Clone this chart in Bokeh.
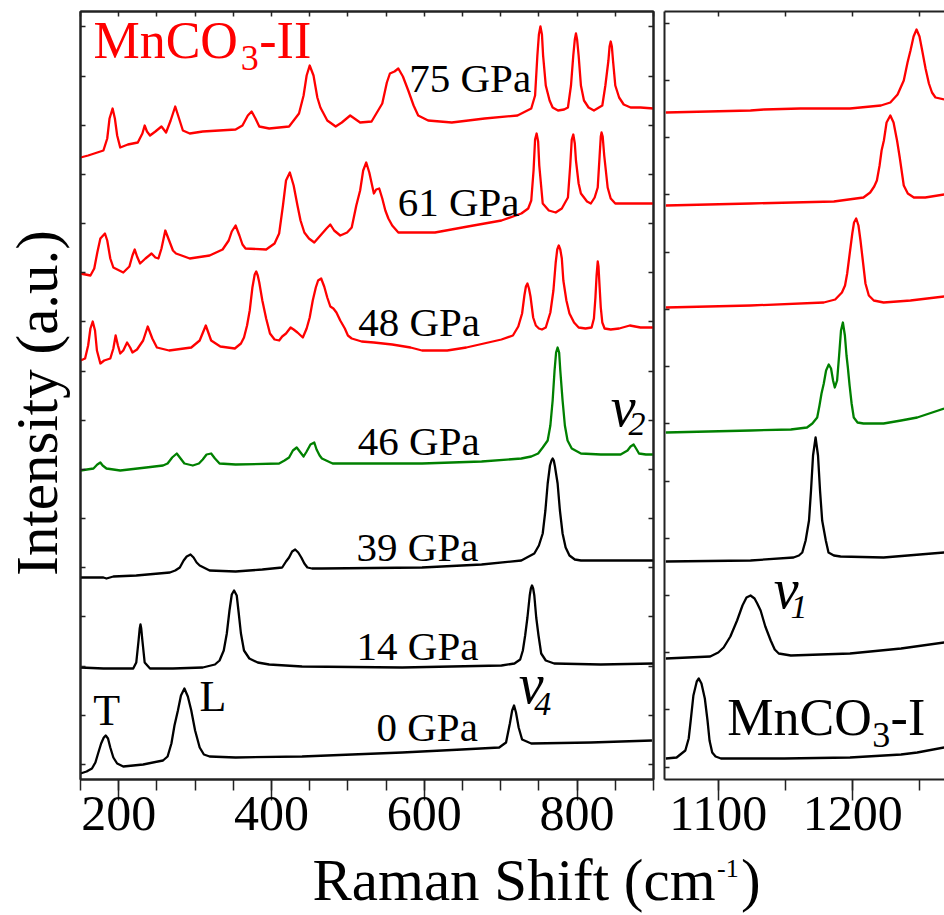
import math
from bokeh.plotting import figure
from bokeh.models import (Range1d, LinearAxis, FixedTicker, SingleIntervalTicker, Label,
                          CustomJSTickFormatter)
from bokeh.layouts import column, row
from bokeh.embed import file_html
from bokeh.resources import INLINE

FONT = "Liberation Serif"
FRAME = "#222222"
RED = "#ff0000"
GREEN = "#008000"
BLACK = "#000000"

# ---------------- data: (Raman shift cm-1, intensity a.u.) ----------------
# left panel (150 - 900 cm-1)
L75 = [(150,622),(160,624),(180,629),(185,641),(188,661),(192,671),(195,661),(198,644),(202,632),(212,635),(225,637),(231,646),(234,654),(237,648),(241,644),(248,648),(256,653),(262,647),(268,659),(274,673),(279,661),(284,649),(293,646),(310,648),(353,650),(362,654),(369,664),(374,668),(379,661),(384,653),(397,651),(423,653),(436,666),(442,684),(446,704),(450,714),(455,704),(460,682),(464,672),(473,659),(484,653),(492,657),(503,664),(516,657),(531,658),(545,676),(551,697),(555,706),(561,708),(566,711),(572,703),(579,689),(586,674),(592,664),(605,659),(636,657),(679,661),(722,664),(740,671),(745,684),(748,724),(750,745),(752,753),(754,745),(755.5,724),(759,694),(764,679),(768,672),(775,669),(783,670),(788,672),(792,694),(795,724),(797,740),(798.5,746),(800,740),(802,724),(805,694),(809,679),(815,672),(822,669),(833,674),(837,694),(841,719),(842.5,733),(844,738),(845.5,733),(847,719),(850,694),(855,682),(861,675),(870,672),(883,672),(900,671)]
L61 = [(150,506),(163,504),(168,511),(172,527),(176,541),(182,546),(185,539),(189,521),(193,512),(206,507),(214,513),(218,524),(221,530),(224,523),(228,516),(235,521),(243,526),(248,522),(252,521),(256,531),(261,549),(266,539),(271,529),(275,526),(293,521),(319,524),(336,530),(344,539),(348,548),(353,554),(358,544),(362,535),(366,531),(393,530),(404,536),(410,546),(415,574),(419,599),(424,607),(429,594),(434,574),(438,559),(443,547),(449,541),(456,537),(464,544),(472,551),(477,555),(482,549),(490,544),(499,547),(505,552),(511,574),(516,589),(520,609),(524,617),(528,607),(534,586),(537,590),(541,591),(545,581),(549,569),(553,561),(558,554),(566,547),(614,547),(657,553),(701,559),(727,566),(736,571),(740,579),(743,609),(745,640),(747,646),(749,638),(750.5,614),(755,576),(763,569),(772,567),(780,571),(788,582),(791,614),(793,640),(795,645),(797,636),(798.5,619),(802,596),(805,586),(813,578),(818,576),(823,582),(827,592),(829.5,624),(831,643),(832,647),(833.5,643),(835.5,624),(840,592),(844,581),(850,576),(877,576),(900,576)]
L48 = [(150,419),(156,421),(160,434),(163,451),(166,458),(169,449),(171.5,429),(176,416),(181,419),(189,421),(193,431),(196,444),(199,434),(202,426),(206,429),(211,437),(215,432),(218,427),(224,430),(232,439),(238,453),(244,441),(250,432),(266,429),(295,432),(306,439),(314,454),(321,439),(333,433),(352,431),(360,436),(364,442),(368,454),(371.5,469),(375,492),(378,505),(380,508),(382,504),(384,497),(388,479),(393,461),(398,446),(404,440),(410,439),(414,443),(419,446),(425,452),(429,450),(434,447),(441,442),(446,451),(450,462),(454,479),(458,492),(461,499),(465,501),(469,493),(473,482),(477,473),(481,471),(485,467),(490,459),(496,451),(500,444),(505,441),(518,438),(534,437),(558,435),(582,432),(597,429),(630,429),(655,432),(678,436),(701,440),(716,444),(723,453),(728,466),(731,484),(733,493),(735,496),(737,491),(739,483),(742.5,462),(746,454),(750,451),(754,450),(759,452),(765,467),(769,489),(772,517),(774,530),(776,534),(778,530),(780,521),(782,499),(786,479),(790,466),(796,457),(802,452),(811,451),(819,452),(822,461),(824,482),(825.5,504),(827,518),(828,513),(829,499),(831,472),(833,457),(836,451),(844,450),(855,451),(869,454),(883,452),(900,452)]
L46 = [(150,309),(167,311),(172,315),(176,317),(179,314),(184,311),(202,309),(236,312),(258,314),(264,316),(270,322),(276,326),(281,321),(286,316),(297,314),(305,316),(310,320),(315,325),(321,326),(326,321),(332,316),(353,315),(410,316),(417,319),(423,322),(428,329),(433,332),(438,327),(442,323),(446,328),(451,335),(456,337),(459,330),(463,324),(466,321),(480,316),(488,316),(597,316),(675,318),(727,321),(740,323),(749,326),(755,332),(761.5,339),(765,354),(768,379),(770.5,409),(772.5,427),(774.5,432),(776.5,427),(778,409),(781,379),(784,354),(787.5,339),(793,331),(805,326),(831,325),(857,325),(866,329),(870,333),(874,335),(878,330),(881,326),(890,325),(900,325)]
L39 = [(150,202),(180,202),(184,201),(193,203),(223,204),(267,207),(274,209),(280,212),(285,219),(289,223),(294,225),(298,222),(302,217),(306,214),(319,209),(353,208),(388,210),(414,212),(419,218),(423,222),(427,228),(431,230),(435,227),(439,222),(443,216),(447,212),(453,211),(466,211),(597,212),(675,215),(727,219),(744,226),(750,234),(755,246),(758.5,269),(761.5,296),(764.5,314),(766.5,319),(768,321),(769.5,319),(771,313),(774.5,296),(777.5,269),(781,246),(785,232),(790,224),(797,220),(805,219),(857,219),(900,219)]
L14 = [(150,112),(180,111),(219,111),(223,117),(226,139),(227.5,151),(228.5,155),(229.5,151),(231,139),(234,117),(241,111),(271,111),(310,112),(326,115),(332,119),(337.5,129),(341.5,146),(345,169),(348,185),(351,189),(354.5,184),(357,167),(360,146),(364,129),(371,121),(382,117),(397,115),(440,113),(571,112),(701,114),(718,116),(725.5,120),(729,129),(732,144),(735,162),(738,184),(739.5,191),(741,194),(742.5,191),(744,184),(746.5,162),(749.5,144),(753,126),(759,119),(770,116),(831,115),(900,116)]
L0 = [(150,6),(158,8),(165,11),(169.5,17),(173,26),(177,36),(180.5,42),(183,44),(186,41),(189,32),(193,22),(198,16),(206,13),(232,15),(258,19),(264,23),(269,36),(273,54),(277.5,69),(281.5,84),(286,91),(290.5,83),(295,69),(300,49),(306,32),(311.5,25),(319,23),(353,22),(440,23),(571,27),(649,30),(698,32),(707,37),(712,56),(715,69),(717.5,74),(720,67),(723.5,52),(728,40),(740,36),(818,37),(898,39)]

# right panel (1060 - 1268 cm-1)
R75 = [(1061,667),(1124,669),(1134,670),(1161,671),(1198,671),(1221,674),(1228,677),(1233.4,685),(1238,699),(1240.8,717),(1243,729),(1245.3,743),(1247.5,750),(1249.7,743),(1251.7,729),(1254.2,711),(1256.7,696),(1259,687),(1261.6,682),(1268,680)]
R61 = [(1061,574),(1124,576),(1186,578),(1208,582),(1213,587),(1216,593),(1218,599),(1220,614),(1221.5,629),(1223.2,639),(1225.2,657),(1228,664),(1230.4,657),(1233,639),(1235,622),(1238,594),(1241,586),(1245.5,582),(1254,582),(1268,585)]
R48 = [(1061,472),(1124,474),(1178.5,477),(1187,480),(1192,487),(1194.3,494),(1195.9,506),(1197.6,524),(1199.7,546),(1201,557),(1202.6,561),(1204.3,554),(1205.8,539),(1207.7,517),(1209.5,496),(1212,484),(1215.7,479),(1223,477),(1243,479),(1268,483)]
R46 = [(1061,347),(1124,349),(1154,350),(1166,352),(1170,356),(1173.6,362),(1175.3,374),(1176.8,386),(1178.5,396),(1180.2,409),(1182.2,415),(1183.9,411),(1185.4,399),(1186.7,392),(1188.4,399),(1189.9,424),(1191.3,449),(1192.7,457),(1194.2,444),(1195.4,424),(1196.4,412),(1197.7,394),(1199.2,376),(1200.8,362),(1203.6,357),(1208,356),(1223,356),(1236,359),(1248,362),(1268,371)]
R39 = [(1061,218),(1124,219),(1156,222),(1160,224),(1162.5,227),(1165,239),(1167.5,259),(1169,289),(1170.5,324),(1172.4,342),(1174.2,324),(1175.7,289),(1177.3,259),(1180,239),(1182,227),(1186,224),(1191,223),(1223,222),(1268,227)]
R14 = [(1061,121),(1094,123),(1100,127),(1104,132),(1109,143),(1114,159),(1118,174),(1121,182),(1124,184),(1127,181),(1129,176),(1131.5,169),(1135,153),(1139,139),(1142,130),(1145,126),(1154,124),(1198,126),(1236,131),(1268,137)]
R0 = [(1061,21),(1069,22),(1075.5,29),(1078,41),(1079.5,59),(1081.5,84),(1084,98),(1085.5,101),(1087.5,96),(1090,81),(1092,59),(1093.5,39),(1095.5,27),(1098,23),(1102,21),(1149,21),(1198,22),(1236,25),(1248,27),(1268,32)]

LEFT_SERIES = [(L75, RED), (L61, RED), (L48, RED), (L46, GREEN), (L39, BLACK), (L14, BLACK), (L0, BLACK)]
RIGHT_SERIES = [(R75, RED), (R61, RED), (R48, RED), (R46, GREEN), (R39, BLACK), (R14, BLACK), (R0, BLACK)]

PRESSURE_LABELS = ["75 GPa", "61 GPa", "48 GPa", "46 GPa", "39 GPa", "14 GPa", "0 GPa"]
PRESSURE_LABEL_X = [739.8, 724.6, 673.0, 672.5, 670.8, 670.8, 670.1]
PRESSURE_LABEL_Y = [701.8, 577.8, 457.8, 338.8, 232.8, 133.8, 52.8]

LEFT_XRANGE = (150, 900)
RIGHT_XRANGE = (1060, 1268.3)
Y_RANGE = (0, 768)
LEFT_YTICKS = [15 + 49.17 * k for k in range(16)]
RIGHT_YTICKS = [12.3 + 57.23 * k for k in range(14)]

FIG_H = 852
BLANK = CustomJSTickFormatter(code="return ''")


def make_fig(width, xr, bl, br, outline):
    p = figure(width=width, height=FIG_H, x_range=Range1d(*xr), y_range=Range1d(*Y_RANGE),
               output_backend="svg", toolbar_location=None,
               x_axis_location=None, y_axis_location=None,
               min_border_left=bl, min_border_right=br, min_border_top=11, min_border_bottom=73)
    p.outline_line_color = FRAME if outline else None
    p.outline_line_width = 2
    p.background_fill_color = "white"
    p.border_fill_color = "white"
    p.xgrid.visible = False
    p.ygrid.visible = False
    return p


def plain_axis(ticker, tick_in):
    ax = LinearAxis(ticker=ticker, formatter=BLANK)
    ax.major_label_text_font_size = "1px"
    ax.major_label_standoff = 0
    ax.major_tick_in = tick_in
    ax.major_tick_out = 0
    ax.minor_tick_in = 0
    ax.minor_tick_out = 0
    ax.major_tick_line_color = FRAME
    ax.major_tick_line_width = 1.5
    ax.axis_line_color = FRAME
    ax.axis_line_width = 2
    return ax


def bottom_axis(ticker):
    ax = LinearAxis(ticker=ticker)
    ax.major_tick_in = 0
    ax.major_tick_out = 21
    ax.minor_tick_in = 0
    ax.minor_tick_out = 11
    ax.major_tick_line_color = FRAME
    ax.minor_tick_line_color = FRAME
    ax.major_tick_line_width = 1.5
    ax.minor_tick_line_width = 1.5
    ax.axis_line_color = FRAME
    ax.axis_line_width = 2
    ax.major_label_text_font = FONT
    ax.major_label_text_font_size = "50px"
    ax.major_label_text_color = "black"
    ax.major_label_standoff = -4
    return ax


def txt(x, y, s, size, align="left", color="black", style="normal", angle=0.0):
    return Label(x=x, y=y, text=s, text_font=FONT, text_font_size=size, text_color=color,
                 text_align=align, text_baseline="alphabetic", text_font_style=style, angle=angle)


# ---------------- left panel ----------------
p1 = make_fig(657, LEFT_XRANGE, 77, 4, True)
p1.add_layout(bottom_axis(SingleIntervalTicker(interval=200, num_minor_ticks=4)), "below")
p1.add_layout(plain_axis(SingleIntervalTicker(interval=50, num_minor_ticks=0), 5), "above")
yax = plain_axis(FixedTicker(ticks=LEFT_YTICKS, minor_ticks=[]), 5)
yax.axis_label = "Intensity (a.u.)\u00a0"
yax.axis_label_text_font = FONT
yax.axis_label_text_font_size = "59px"
yax.axis_label_text_font_style = "normal"
yax.axis_label_text_color = "black"
yax.axis_label_standoff = 11
p1.add_layout(yax, "left")
p1.add_layout(plain_axis(FixedTicker(ticks=LEFT_YTICKS, minor_ticks=[]), 5), "right")

for data, col in LEFT_SERIES:
    xs, ys = zip(*data)
    p1.line(list(xs), list(ys), line_color=col, line_width=2.3, line_join="round")

for s, x, y in zip(PRESSURE_LABELS, PRESSURE_LABEL_X, PRESSURE_LABEL_Y):
    p1.add_layout(txt(x, y, s, "41px", align="right"))

p1.add_layout(txt(166.9, 739, "MnCO", "52px", color=RED))
p1.add_layout(txt(359.6, 721.2, "3", "36px", color=RED))
p1.add_layout(txt(384.0, 739, "-II", "52px", color=RED))
p1.add_layout(txt(184.3, 69.2, "T", "44px", align="center"))
p1.add_layout(txt(305.9, 82.9, "L", "44px"))
p1.add_layout(txt(723.6, 95.6, "\u03bd", "56px", style="italic"))
p1.add_layout(txt(743.8, 75.4, "4", "34px", style="italic"))
p1.add_layout(txt(844.0, 372.6, "\u03bd", "56px", style="italic"))
p1.add_layout(txt(867.4, 355.1, "2", "34px", style="italic"))

# ---------------- right panel ----------------
p2 = make_fig(287, RIGHT_XRANGE, 7, 0, False)
p2.add_layout(bottom_axis(SingleIntervalTicker(interval=100, num_minor_ticks=2)), "below")
p2.add_layout(plain_axis(SingleIntervalTicker(interval=50, num_minor_ticks=0), 5), "above")
p2.add_layout(plain_axis(FixedTicker(ticks=RIGHT_YTICKS, minor_ticks=[]), 5), "left")

for data, col in RIGHT_SERIES:
    xs, ys = zip(*data)
    p2.line(list(xs), list(ys), line_color=col, line_width=2.3, line_join="round")

p2.add_layout(txt(1106.65, 62.3, "MnCO", "52px"))
p2.add_layout(txt(1214.5, 44.6, "3", "36px"))
p2.add_layout(txt(1228.2, 62.3, "-I", "52px"))
p2.add_layout(txt(1141.3, 190.6, "\u03bd", "56px", style="italic"))
p2.add_layout(txt(1153.75, 172.1, "1", "34px", style="italic"))

# ---------------- x-axis title strip (transparent, tucked under the tick labels) ----------------
p3 = figure(width=944, height=85, x_range=Range1d(0, 944), y_range=Range1d(0, 85),
            output_backend="svg", toolbar_location=None,
            x_axis_location=None, y_axis_location=None, min_border=0,
            margin=(-22, 0, 0, 0))
p3.outline_line_color = None
p3.background_fill_color = None
p3.border_fill_color = None
p3.xgrid.visible = False
p3.ygrid.visible = False
p3.add_layout(txt(312, 35.7, "Raman Shift (cm", "59px"))
p3.add_layout(txt(716.5, 47.4, "-1", "26px"))
p3.add_layout(txt(740.5, 35.7, ")", "59px"))

layout = column(row(p1, p2), p3)
open("out.html", "w").write(file_html(layout, INLINE))
